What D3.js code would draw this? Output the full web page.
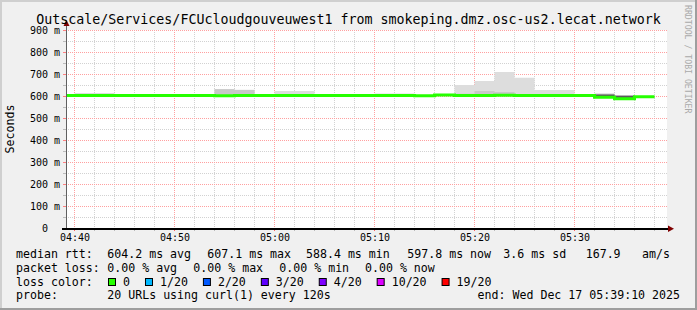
<!DOCTYPE html>
<html>
<head>
<meta charset="utf-8">
<script src="https://cdn.jsdelivr.net/npm/d3@7"></script>
<style>
body { margin: 0; background: #f0f0f0; }
text { font-family: "DejaVu Sans Mono", monospace; }
</style>
</head>
<body>
<script>
// 2 minute bins (start time), values in ms
var binStart = ["04:38","04:40","04:42","04:44","04:46","04:48","04:50","04:52","04:54","04:56",
                "04:58","05:00","05:02","05:04","05:06","05:08","05:10","05:12","05:14","05:16",
                "05:18","05:20","05:22","05:24","05:26","05:28","05:30","05:32","05:34","05:36"];
var median    = [605,605,605,604,604,604,604,604,603,604, 604,604,604,604,604,604,604,604,603,607.1, 605,605,606,605,605,605,604,597,590,599];
var smokeMin  = [602,602,602,601,601,601,601,601,600,601, 601,601,601,601,601,601,601,601,600,604, 602,602,602,602,602,602,601,594,588,597];
var smokeDark = [606,606,606,605,605,605,605,605,606,606, 605,605,605,605,605,605,605,605,604,608, 607,608,608,607,607,607,605,609,603,600];
var smokeMid  = [607,607,607,606,606,606,606,606,633,630, 606,607,607,606,606,606,607,607,605,609, 612,625,620,610,610,610,606,612,604,600];
var smokeMax  = [607,616,616,606,606,606,606,606,634,631, 606,625,625,606,606,606,614,614,605,609, 652,670,711,685,630,630,606,614,606,600];
var binEnd = "05:38";

var lossLabels = ["0","1/20","2/20","3/20","4/20","10/20","19/20"];
var lossColors = ["#26ff00","#00b8ff","#0059ff","#5e00ff","#7e00ff","#dd00ff","#ff0000"];
var rttText  = ["604.2 ms avg","607.1 ms max","588.4 ms min","597.8 ms now","3.6 ms sd","167.9","am/s"];
var lossText = ["0.00 % avg","0.00 % max","0.00 % min","0.00 % now"];

var W = 697, H = 310;
function t(s) { return new Date("2025-12-17T" + s + ":00Z"); }

var rows = binStart.map(function(s, i) {
  return {t: t(s), med: median[i], lo: smokeMin[i], dark: smokeDark[i], mid: smokeMid[i], hi: smokeMax[i]};
});
var last = rows[rows.length - 1];
rows.push(Object.assign({}, last, {t: t(binEnd)}));

var x = d3.scaleUtc()
  .domain([new Date(Date.UTC(2025,11,17,4,39,10)), new Date(Date.UTC(2025,11,17,5,39,10))])
  .range([66.2, 666.2]);
var y = d3.scaleLinear().domain([0, 900]).range([228.5, 30.5]);

var svg = d3.select("body").append("svg")
  .attr("width", W).attr("height", H);

// frame
svg.append("rect").attr("width", W).attr("height", H).attr("fill", "#f0f0f0");
svg.append("rect").attr("width", W).attr("height", 2).attr("fill", "#cfcfcf");
svg.append("rect").attr("width", 2).attr("height", H).attr("fill", "#cfcfcf");
svg.append("rect").attr("y", H - 2).attr("width", W).attr("height", 2).attr("fill", "#9e9e9e");
svg.append("rect").attr("x", W - 2).attr("width", 2).attr("height", H).attr("fill", "#9e9e9e");

// canvas
svg.append("rect").attr("x", 66).attr("y", 30).attr("width", 601).attr("height", 198).attr("fill", "#fff");

// grid
var minorX = x.ticks(d3.utcMinute.every(2)), majorX = x.ticks(d3.utcMinute.every(10));
var minorY = d3.range(0, 901, 50), majorY = y.ticks(10);
function px(v) { return Math.round(v - 0.5) + 0.5; }

var grid = svg.append("g").attr("stroke-dasharray", "1,1").attr("stroke-width", 1);
grid.selectAll(".mx").data(minorY).join("line")
  .attr("x1", 66).attr("x2", 667).attr("y1", d => px(y(d))).attr("y2", d => px(y(d)))
  .attr("stroke", "#d2d2d2");
grid.selectAll(".vx").data(minorX).join("line")
  .attr("y1", 30).attr("y2", 228).attr("x1", d => px(x(d))).attr("x2", d => px(x(d)))
  .attr("stroke", "#d2d2d2");
grid.selectAll(".My").data(majorY).join("line")
  .attr("x1", 66).attr("x2", 667).attr("y1", d => px(y(d))).attr("y2", d => px(y(d)))
  .attr("stroke", "#ffa0a0");
grid.selectAll(".Mx").data(majorX).join("line")
  .attr("y1", 30).attr("y2", 228).attr("x1", d => px(x(d))).attr("x2", d => px(x(d)))
  .attr("stroke", "#ffa0a0");

// small ticks outside the axes
svg.append("g").selectAll("line").data(minorY).join("line")
  .attr("x1", 63).attr("x2", 66).attr("y1", d => px(y(d))).attr("y2", d => px(y(d)))
  .attr("stroke", d => d % 100 ? "#bbb" : "#ff8080");
svg.append("g").selectAll("line").data(minorX).join("line")
  .attr("y1", 228).attr("y2", 231).attr("x1", d => px(x(d))).attr("x2", d => px(x(d)))
  .attr("stroke", d => d.getUTCMinutes() % 10 ? "#bbb" : "#ff6060");

// smoke + median
var plot = svg.append("g");
svg.append("clipPath").attr("id", "clip").append("rect")
  .attr("x", 66.5).attr("y", 20).attr("width", 600).attr("height", 208);
plot.attr("clip-path", "url(#clip)");

function band(key, color) {
  var a = d3.area().curve(d3.curveStepAfter)
    .x(d => x(d.t)).y0(d => y(d.lo)).y1(d => y(d[key]));
  plot.append("path").datum(rows).attr("d", a).attr("fill", color);
}
band("hi", "#dddddd");
band("mid", "#c8c8c8");
band("dark", "#5a5a5a");

var medLine = d3.line().curve(d3.curveStepAfter).x(d => x(d.t)).y(d => y(d.med));
plot.append("path").datum(rows).attr("d", medLine)
  .attr("fill", "none").attr("stroke", "#26ff00").attr("stroke-width", 3);

// axes lines and arrows
svg.append("line").attr("x1", 66.5).attr("x2", 66.5).attr("y1", 228).attr("y2", 24)
  .attr("stroke", "#606060");
svg.append("line").attr("x1", 62).attr("x2", 669).attr("y1", 229).attr("y2", 229)
  .attr("stroke", "#000").attr("stroke-width", 2);
svg.append("path").attr("d", "M63.5,26L69.5,26L66.5,20Z").attr("fill", "#7f0000");
svg.append("path").attr("d", "M668,225.5L668,232L674,228.7Z").attr("fill", "#7f0000");

// tick labels through d3 axes
var xAxis = svg.append("g").attr("transform", "translate(0,228.5)")
  .call(d3.axisBottom(x).ticks(d3.utcMinute.every(10)).tickFormat(d3.utcFormat("%H:%M")).tickSize(0).tickPadding(5));
xAxis.select(".domain").remove();
xAxis.selectAll("text").attr("font-size", 10).attr("fill", "#000")
  .attr("font-family", "DejaVu Sans Mono");

var yAxis = svg.append("g").attr("transform", "translate(66,0)")
  .call(d3.axisLeft(y).ticks(10).tickFormat(d => d === 0 ? "0  " : d + " m").tickSize(0).tickPadding(6));
yAxis.select(".domain").remove();
yAxis.selectAll("text").attr("font-size", 10).attr("fill", "#000")
  .attr("font-family", "DejaVu Sans Mono").style("white-space", "pre");

// title and labels
svg.append("text").attr("x", W / 2).attr("y", 23.5).attr("text-anchor", "middle")
  .attr("font-size", 13.3).attr("fill", "#000")
  .text("Outscale/Services/FCUcloudgouveuwest1 from smokeping.dmz.osc-us2.lecat.network");
svg.append("text").attr("transform", "translate(14,129) rotate(-90)").attr("text-anchor", "middle")
  .attr("font-size", 11.6).attr("fill", "#000").text("Seconds");
svg.append("text").attr("transform", "translate(685,5) rotate(90)")
  .attr("font-size", 8.2).attr("fill", "#aaa").text("RRDTOOL / TOBI OETIKER");

// legend
var fs = 11.6;
function txt(xp, yp, s, anchor) {
  return svg.append("text").attr("x", xp).attr("y", yp).attr("font-size", fs)
    .attr("fill", "#000").attr("text-anchor", anchor || "start").style("white-space", "pre").text(s);
}
var row1X = [107.3, 207.3, 306, 407.3, 503.3, 585.7, 642];
txt(16, 258, "median rtt:");
rttText.forEach((s, i) => txt(row1X[i], 258, s));
var row2X = [107.3, 193.3, 279.3, 365];
txt(16, 272, "packet loss:");
lossText.forEach((s, i) => txt(row2X[i], 272, s));

txt(16, 285.5, "loss color:");
var lx = 108;
lossLabels.forEach(function(s, i) {
  svg.append("rect").attr("x", lx + 0.5).attr("y", 278.5).attr("width", 7).attr("height", 7)
    .attr("fill", lossColors[i]).attr("stroke", "#000");
  var tt = txt(lx + 15, 285.5, s);
  lx = lx + 15 + tt.node().getComputedTextLength() + 15;
});

txt(16, 299, "probe:");
txt(107.3, 299, "20 URLs using curl(1) every 120s");
txt(680, 299, "end: Wed Dec 17 05:39:10 2025", "end");
</script>
</body>
</html>
